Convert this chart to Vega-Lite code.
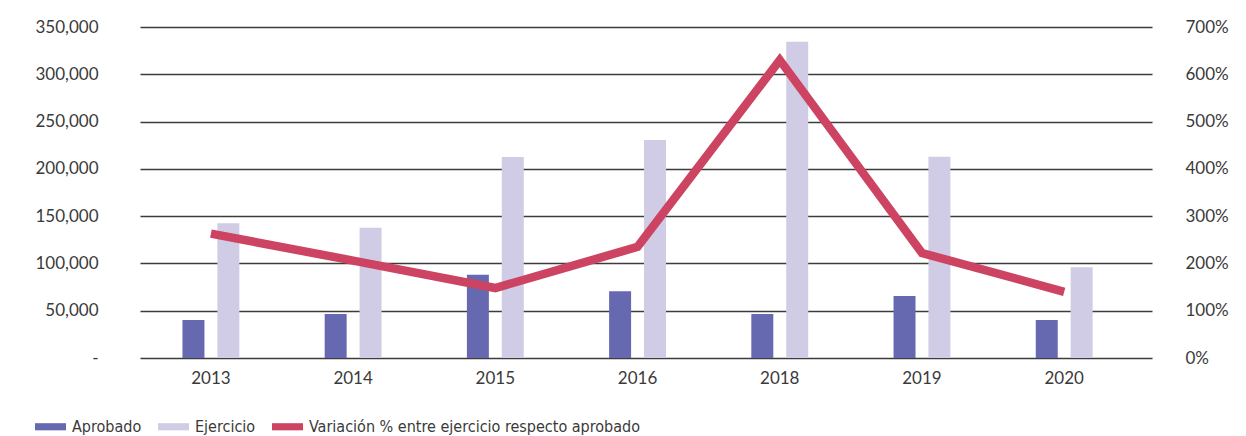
{
  "$schema": "https://vega.github.io/schema/vega-lite/v6.json",
  "width": 1012,
  "height": 331,
  "autosize": {"type": "none"},
  "padding": {"left": 140, "top": 27, "right": 94, "bottom": 78},
  "background": "white",
  "config": {
    "view": {"stroke": null},
    "font": "Lato",
    "axis": {"labelFont": "Lato", "labelFontSize": 17, "labelColor": "#3a3a3a", "title": null, "ticks": false, "domain": false}
  },
  "datasets": {
    "bars": [
      {"year": "2013", "serie": "Aprobado", "value": 40200},
      {"year": "2013", "serie": "Ejercicio", "value": 142400},
      {"year": "2014", "serie": "Aprobado", "value": 46500},
      {"year": "2014", "serie": "Ejercicio", "value": 137700},
      {"year": "2015", "serie": "Aprobado", "value": 88000},
      {"year": "2015", "serie": "Ejercicio", "value": 212500},
      {"year": "2016", "serie": "Aprobado", "value": 70500},
      {"year": "2016", "serie": "Ejercicio", "value": 230400},
      {"year": "2018", "serie": "Aprobado", "value": 46500},
      {"year": "2018", "serie": "Ejercicio", "value": 334400},
      {"year": "2019", "serie": "Aprobado", "value": 65500},
      {"year": "2019", "serie": "Ejercicio", "value": 212800},
      {"year": "2020", "serie": "Aprobado", "value": 40200},
      {"year": "2020", "serie": "Ejercicio", "value": 95900}
    ],
    "line": [
      {"year": "2013", "pct": 2.63},
      {"year": "2014", "pct": 2.06},
      {"year": "2015", "pct": 1.48},
      {"year": "2016", "pct": 2.35},
      {"year": "2018", "pct": 6.3},
      {"year": "2019", "pct": 2.22},
      {"year": "2020", "pct": 1.4}
    ]
  },
  "layer": [
    {
      "data": {"name": "bars"},
      "mark": {"type": "bar"},
      "encoding": {
        "x": {
          "field": "year", "type": "nominal", "sort": null,
          "scale": {"paddingInner": 0.6, "paddingOuter": 0.358, "align": 0.417},
          "axis": {"labelAngle": 0, "labelPadding": 12, "grid": false}
        },
        "xOffset": {
          "field": "serie", "type": "nominal", "sort": ["Aprobado", "Ejercicio"],
          "scale": {"paddingInner": 0.37, "paddingOuter": 0}
        },
        "y": {
          "field": "value", "type": "quantitative",
          "scale": {"domain": [0, 350000], "nice": false},
          "axis": {
            "values": [0, 50000, 100000, 150000, 200000, 250000, 300000, 350000],
            "labelExpr": "datum.value == 0 ? '-' : format(datum.value, ',')",
            "grid": true, "gridColor": "#3c3c3c", "gridWidth": 1.3,
            "labelPadding": 42
          }
        },
        "color": {
          "field": "serie", "type": "nominal",
          "scale": {
            "domain": ["Aprobado", "Ejercicio", "Variación % entre ejercicio respecto aprobado"],
            "range": ["#6669b0", "#d0cce6", "#cc4462"]
          },
          "legend": {
            "title": null,
            "orient": "none",
            "legendX": -105,
            "legendY": 384,
            "direction": "horizontal",
            "symbolType": "M-1,-0.23H1V0.23H-1Z",
            "symbolSize": 961,
            "symbolStrokeWidth": 0,
            "symbolOpacity": 1,
            "labelFont": "Liberation Sans Narrow, DejaVu Sans Condensed, Lato",
            "labelFontSize": 16,
            "labelColor": "#3a3a3a",
            "labelOffset": 6,
            "columnPadding": 16,
            "labelLimit": 400
          }
        }
      }
    },
    {
      "data": {"name": "line"},
      "mark": {"type": "line", "strokeWidth": 8.5, "strokeJoin": "miter", "strokeCap": "butt"},
      "encoding": {
        "x": {"field": "year", "type": "nominal", "sort": null},
        "y": {
          "field": "pct", "type": "quantitative",
          "scale": {"domain": [0, 7], "nice": false},
          "axis": {
            "orient": "right",
            "values": [0, 1, 2, 3, 4, 5, 6, 7],
            "format": ".0%",
            "grid": false,
            "labelPadding": 33,
            "labelAlign": "left"
          }
        },
        "color": {"datum": "Variación % entre ejercicio respecto aprobado", "type": "nominal", "legend": null}
      }
    }
  ],
  "resolve": {"scale": {"y": "independent"}}
}
